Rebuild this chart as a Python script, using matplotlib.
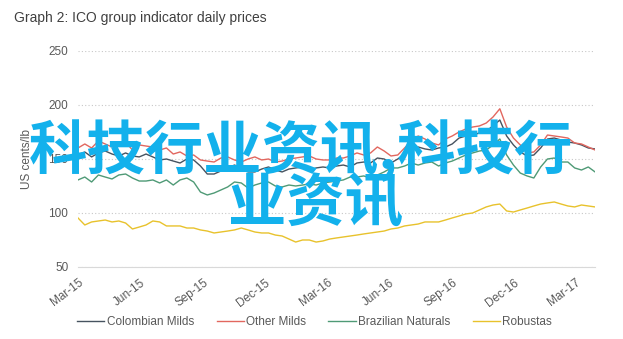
import numpy as np
import pandas as pd
import matplotlib
matplotlib.use("Agg")
import matplotlib.pyplot as plt
import matplotlib.dates as mdates

# ICO group indicator prices, US cents/lb, read every 10 days from Mar-2015
start_date = "2015-03-01"
colombian = [153.7, 156.5, 151.9, 155.6, 157.4, 154.6, 152.8, 155.6, 152.8, 151.9,
             154.6, 151.9, 149.1, 150.0, 148.1, 146.3, 150.0, 149.1, 143.5, 136.1,
             136.1, 138.9, 141.7, 144.4, 141.7, 138.0, 138.0, 140.7, 142.6, 139.8,
             138.0, 140.7, 141.7, 142.6, 139.8, 141.7, 142.6, 141.7, 143.5, 144.4,
             142.6, 146.3, 147.2, 146.3, 150.9, 150.0, 146.3, 150.0, 154.6, 158.3,
             161.1, 159.3, 158.3, 160.2, 161.1, 163.9, 169.4, 171.3, 172.2, 174.1,
             175.9, 180.6, 186.1, 171.3, 163.0, 156.5, 152.8, 153.7, 160.2, 168.5,
             169.4, 167.6, 165.7, 164.8, 163.0, 160.2, 159.3]
other_milds = [160.2, 163.9, 160.2, 166.7, 163.9, 161.1, 163.0, 165.7, 158.3, 163.0,
               162.0, 161.1, 158.3, 160.2, 154.6, 156.5, 152.8, 153.7, 149.1, 148.1,
               147.2, 150.9, 151.9, 149.1, 147.2, 150.0, 151.9, 149.1, 150.0, 147.2,
               148.1, 150.0, 150.9, 151.9, 152.8, 150.0, 149.1, 149.1, 150.9, 150.9,
               152.8, 155.6, 153.7, 155.6, 161.1, 157.4, 152.8, 153.7, 160.2, 166.7,
               171.3, 168.5, 164.8, 163.0, 168.5, 171.3, 175.0, 177.8, 179.6, 180.6,
               183.3, 188.9, 196.5, 179.6, 169.4, 163.0, 155.6, 156.5, 163.0, 172.2,
               171.3, 170.4, 169.4, 164.8, 163.9, 161.1, 158.3]
brazilian = [130.6, 133.3, 128.7, 135.2, 133.3, 131.5, 135.2, 136.1, 132.4, 129.6,
             129.6, 130.6, 127.8, 130.6, 125.9, 130.6, 132.4, 128.7, 119.4, 116.7,
             118.5, 121.3, 124.1, 128.7, 127.8, 123.1, 125.9, 127.8, 128.7, 125.0,
             124.1, 125.9, 125.0, 125.9, 126.9, 125.9, 127.8, 128.7, 129.6, 130.6,
             133.3, 133.3, 134.3, 132.4, 135.2, 138.0, 141.7, 141.7, 143.5, 146.3,
             144.4, 146.3, 147.2, 143.5, 146.3, 148.1, 150.9, 153.7, 155.6, 157.4,
             158.3, 163.0, 168.5, 153.7, 144.4, 137.0, 134.3, 132.4, 142.6, 150.0,
             150.9, 147.2, 147.2, 141.7, 139.8, 142.6, 138.0]
robustas = [95.4, 88.9, 91.7, 92.6, 93.5, 91.7, 92.6, 90.7, 85.2, 87.0,
            88.9, 92.6, 91.7, 88.0, 88.0, 88.0, 86.1, 86.1, 84.3, 83.3,
            81.5, 82.4, 83.3, 84.3, 86.1, 84.3, 82.4, 81.5, 81.5, 79.6,
            78.7, 75.9, 73.1, 75.0, 75.0, 73.1, 74.1, 75.9, 76.9, 77.8,
            78.7, 79.6, 80.6, 81.5, 82.4, 83.3, 85.2, 86.1, 88.0, 88.9,
            89.8, 91.7, 91.7, 91.7, 93.5, 95.4, 97.2, 99.1, 100.0, 102.8,
            105.6, 107.4, 108.3, 101.9, 100.9, 102.8, 104.6, 106.5, 108.3, 109.3,
            110.2, 108.3, 106.5, 105.6, 107.4, 106.5, 105.6]

series_names = ["Colombian Milds", "Other Milds", "Brazilian Naturals", "Robustas"]
series_colors = ["#475360", "#e2675f", "#4f9a76", "#e8c22c"]
yticks = [50, 100, 150, 200, 250]

dates = pd.date_range(start_date, periods=len(colombian), freq="10D")

plt.rcParams["font.family"] = ["Liberation Sans", "DejaVu Sans"]
fig = plt.figure(figsize=(6.23, 3.39), dpi=100)
ax = fig.add_axes([0.1252, 0.2124, 0.830, 0.6372])

for vals, name, col in zip([colombian, other_milds, brazilian, robustas],
                           series_names, series_colors):
    ax.plot(dates, vals, color=col, lw=1.0, label=name)

ax.set_ylim(50, 250)
ax.set_yticks(yticks)
ax.set_xlim(dates[0], dates[-1])
ax.xaxis.set_major_locator(mdates.MonthLocator(bymonth=[3, 6, 9, 12]))
ax.xaxis.set_major_formatter(mdates.DateFormatter("%b-%y"))
ax.tick_params(axis="both", length=0, labelsize=8.5, colors="#595959")
ax.tick_params(axis="x", pad=7)
plt.setp(ax.get_xticklabels(), rotation=37, ha="right", rotation_mode="anchor")
ax.tick_params(axis="y", pad=7)
for s in ["top", "right", "left"]:
    ax.spines[s].set_visible(False)
ax.spines["bottom"].set_color("#d9d9d9")
ax.grid(axis="y", color="#c8c8c8", lw=0.8, linestyle=(0, (1, 2)))
ax.set_axisbelow(True)
ax.set_ylabel("US cents/lb", fontsize=8.5, color="#595959", labelpad=11)

fig.text(0.022, 0.948, "Graph 2: ICO group indicator daily prices", fontsize=10,
         color="#404040", va="center", ha="left")

fig.legend(loc="center", bbox_to_anchor=(0.505, 0.05), ncol=4, frameon=False,
           fontsize=8.5, handlelength=2.3, handletextpad=0.2, columnspacing=1.9,
           labelcolor="#595959")

# watermark overlay
wm = dict(family=["Noto Sans CJK SC", "DejaVu Sans"], fontsize=42, weight="bold",
          color="#13b1ec", ha="center", va="center", zorder=10)
fig.text(0.483, 1 - 151 / 339, "科技行业资讯,科技行", **wm)
fig.text(0.506, 1 - 204 / 339, "业资讯", **wm)

fig.savefig("out.png", dpi=100)
